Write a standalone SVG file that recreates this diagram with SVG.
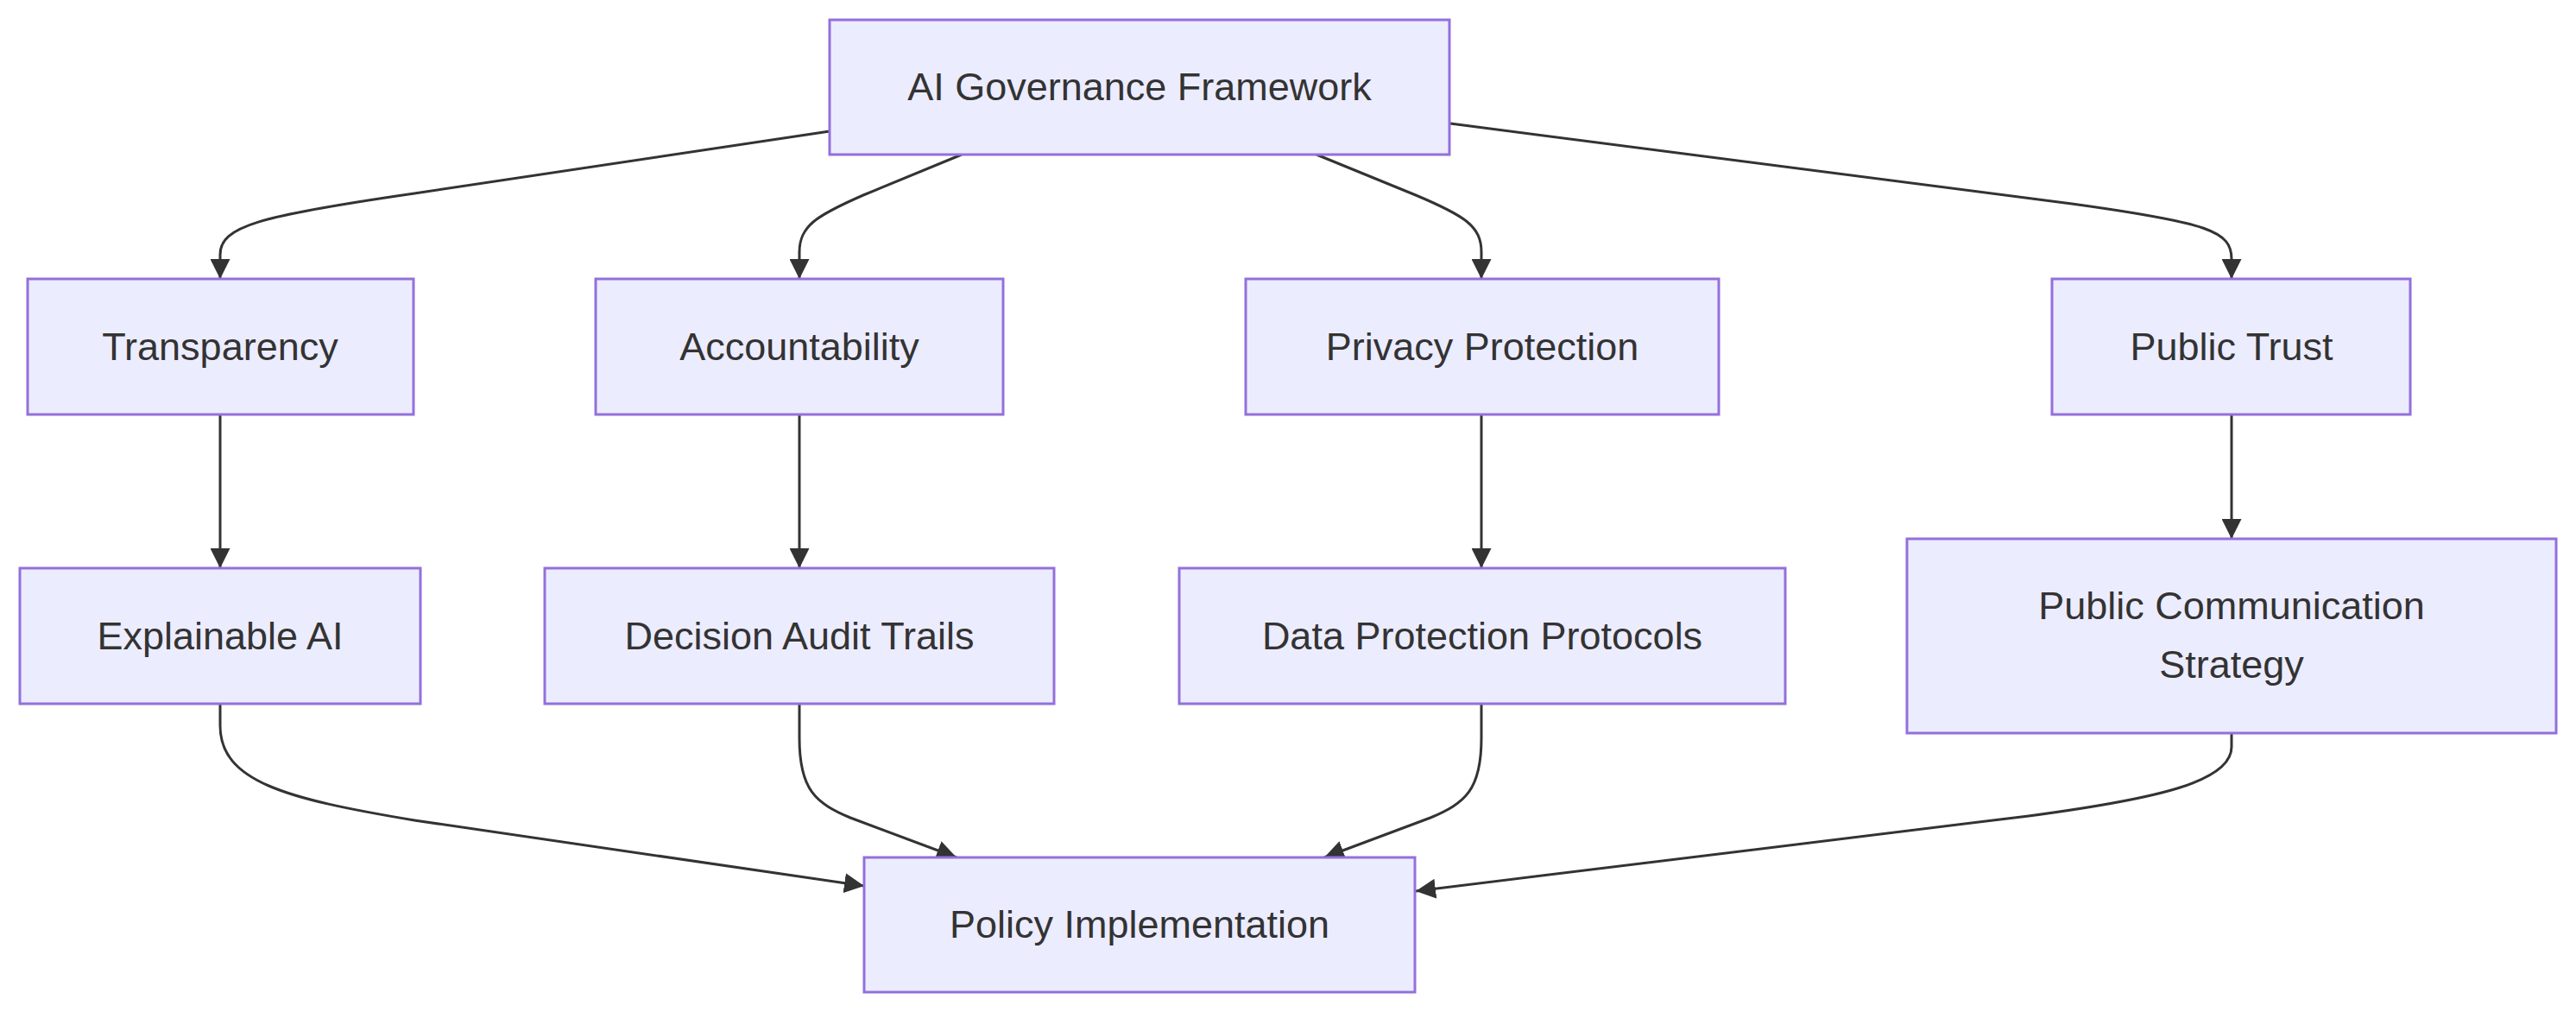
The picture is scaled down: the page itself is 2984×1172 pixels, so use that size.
<svg xmlns="http://www.w3.org/2000/svg" width="2984" height="1172" viewBox="0 0 2984 1172">
<style>
.node rect{fill:#ECECFF;stroke:#9370DB;stroke-width:3}
.node text{font-family:"Liberation Sans",Arial,sans-serif;font-size:45px;fill:#333;text-anchor:middle}
.edges path{fill:none;stroke:#333;stroke-width:3}
</style>
<defs>
<marker id="arrow" viewBox="0 0 10 10" refX="10" refY="5" markerWidth="23" markerHeight="23" markerUnits="userSpaceOnUse" orient="auto">
<path d="M0,0 L10,5 L0,10 z" fill="#333"/>
</marker>
</defs>
<rect width="2984" height="1172" fill="#fff"/>
<g class="edges" id="connectors">
<path marker-end="url(#arrow)" d="M961,152 L480,224 C300,250 255,262 255,295 L255,323"/>
<path marker-end="url(#arrow)" d="M1114,179 L1000,226 C945,250 926,262 926,292 L926,323"/>
<path marker-end="url(#arrow)" d="M1525,179 L1640,226 C1697,250 1716,262 1716,292 L1716,323"/>
<path marker-end="url(#arrow)" d="M1680,143 L2400,236 C2560,258 2585,268 2585,300 L2585,323"/>
<path marker-end="url(#arrow)" d="M255,480 L255,658"/>
<path marker-end="url(#arrow)" d="M926,480 L926,658"/>
<path marker-end="url(#arrow)" d="M1716,480 L1716,658"/>
<path marker-end="url(#arrow)" d="M2585,480 L2585,624"/>
<path marker-end="url(#arrow)" d="M255,815 L255,840 C255,905 330,925 480,950 L1001,1026"/>
<path marker-end="url(#arrow)" d="M926,815 L926,855 C926,915 945,930 985,947 L1108,993"/>
<path marker-end="url(#arrow)" d="M1716,815 L1716,855 C1716,915 1697,930 1657,947 L1534,993"/>
<path marker-end="url(#arrow)" d="M2585,849 L2585,865 C2585,905 2500,925 2350,945 L1640,1032"/>
</g>
<g class="node" id="ai-governance-framework">
<rect x="961" y="23" width="718" height="156"/>
<text x="1320" y="116">AI Governance Framework</text>
</g>
<g class="node" id="transparency">
<rect x="32" y="323" width="447" height="157"/>
<text x="255" y="417">Transparency</text>
</g>
<g class="node" id="accountability">
<rect x="690" y="323" width="472" height="157"/>
<text x="926" y="417">Accountability</text>
</g>
<g class="node" id="privacy-protection">
<rect x="1443" y="323" width="548" height="157"/>
<text x="1717" y="417">Privacy Protection</text>
</g>
<g class="node" id="public-trust">
<rect x="2377" y="323" width="415" height="157"/>
<text x="2585" y="417">Public Trust</text>
</g>
<g class="node" id="explainable-ai">
<rect x="23" y="658" width="464" height="157"/>
<text x="255" y="752">Explainable AI</text>
</g>
<g class="node" id="decision-audit-trails">
<rect x="631" y="658" width="590" height="157"/>
<text x="926" y="752">Decision Audit Trails</text>
</g>
<g class="node" id="data-protection-protocols">
<rect x="1366" y="658" width="702" height="157"/>
<text x="1717" y="752">Data Protection Protocols</text>
</g>
<g class="node" id="public-communication-strategy">
<rect x="2209" y="624" width="752" height="225"/>
<text x="2585" y="717">Public Communication</text>
<text x="2585" y="785">Strategy</text>
</g>
<g class="node" id="policy-implementation">
<rect x="1001" y="993" width="638" height="156"/>
<text x="1320" y="1086">Policy Implementation</text>
</g>
</svg>
